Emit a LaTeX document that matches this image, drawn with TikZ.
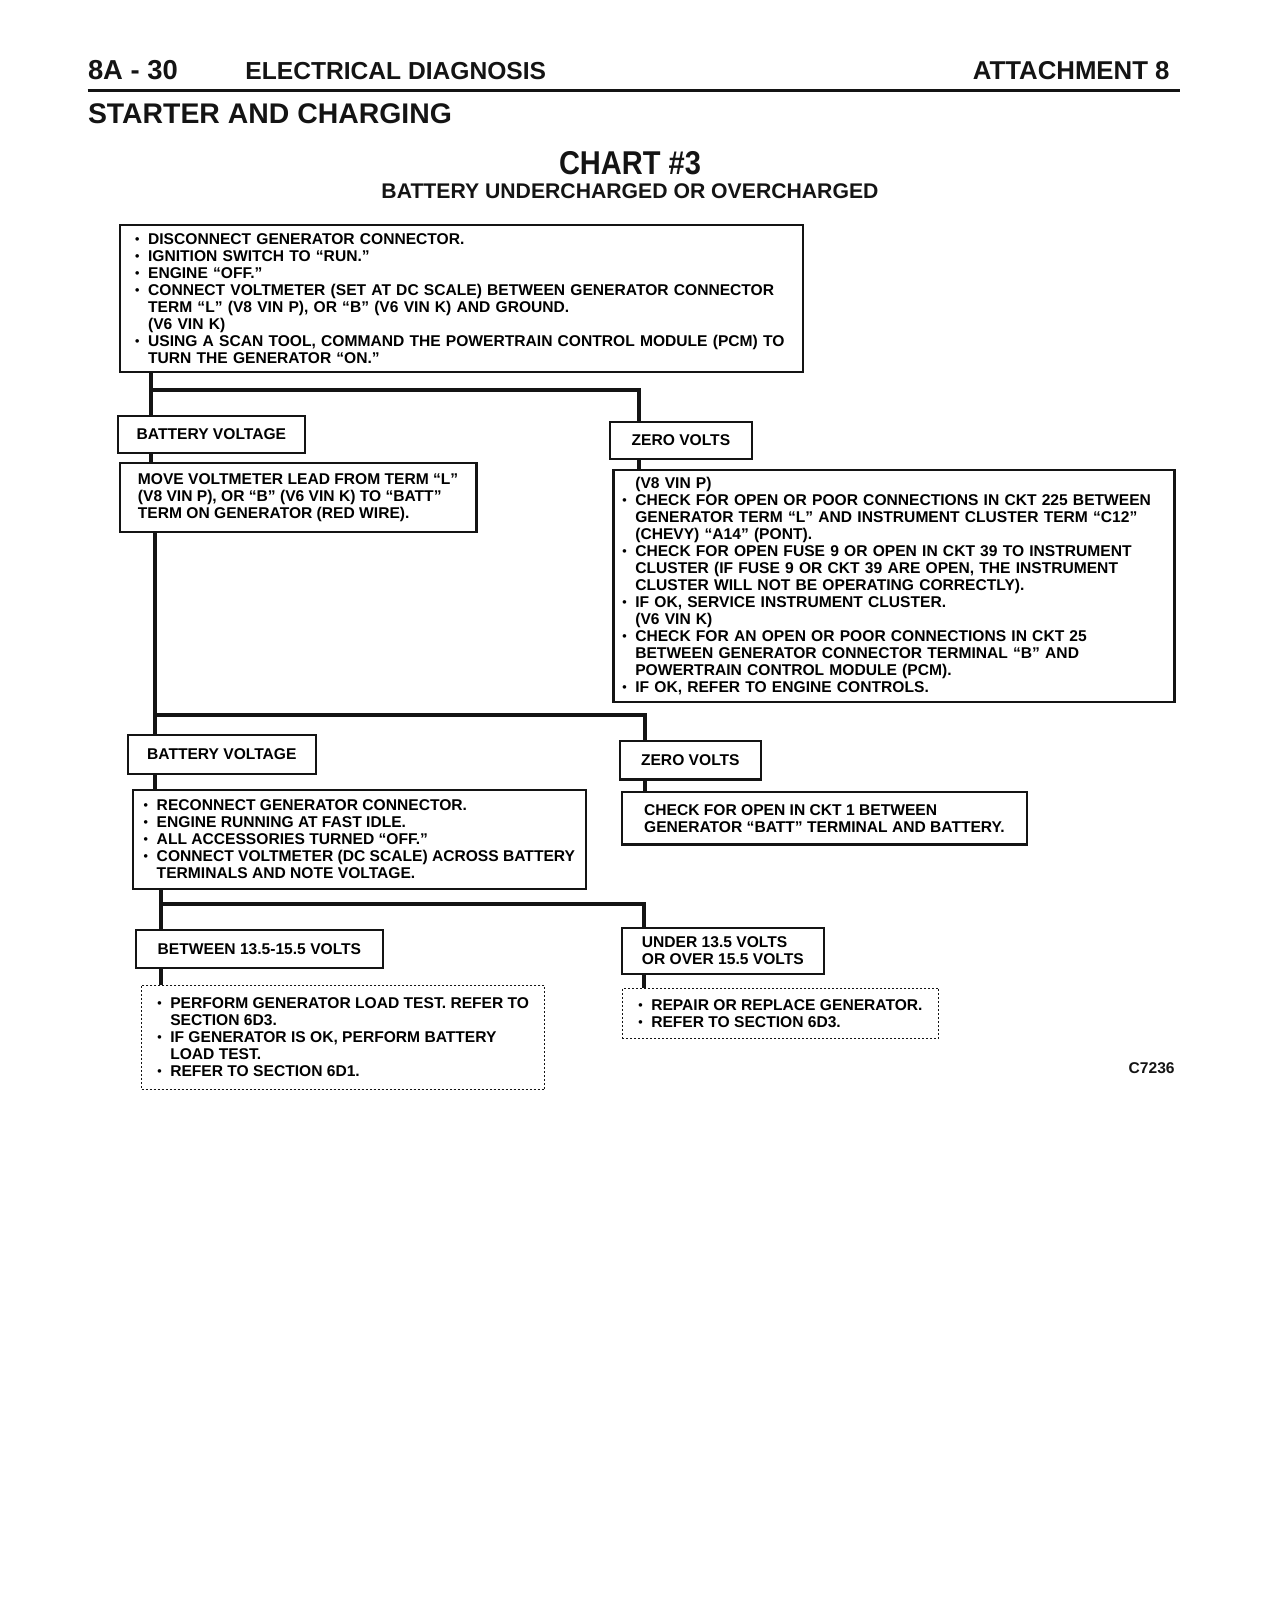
\documentclass[tikz,border=0pt]{standalone}
\usepackage{fontspec}
\setmainfont{Liberation Sans}
\newfontfamily\headfont[FakeStretch=0.88]{Liberation Sans}
\usetikzlibrary{calc, positioning}
\definecolor{scanInk}{HTML}{141414}
\newcommand{\boxfont}{\fontsize{7.8}{8.5}\selectfont\bfseries}
\newcommand{\itembul}{\makebox[6.5pt][l]{\raisebox{0.1ex}{\scalebox{0.8}{\textbullet}}}}
\newcommand{\itemind}{\hspace*{6.5pt}}
\tikzset{
  box/.style    = {draw=scanInk, line width=1.1pt, fill=white, anchor=north west,
                   align=left, font=\boxfont, inner sep=0pt},
  tag/.style    = {box, align=center},
  dotbox/.style = {box, line width=0.5pt, dash pattern=on 1pt off 1pt},
  link/.style   = {draw=scanInk, line width=2pt, line join=miter},
  head/.style   = {anchor=base west, inner sep=0pt, text=scanInk}
}

\begin{document}
\begin{tikzpicture}[x=0.5pt, y=-0.5pt]
  \useasboundingbox (0,0) rectangle (1264,1616);
  % page heading
  \node[head, font=\bfseries\fontsize{13.7}{14}\selectfont] (pageno) at (87.6,79.4) {8A - 30};
  \node[head, font=\bfseries\fontsize{12.3}{13}\selectfont] (section) at (245,79.4) {ELECTRICAL DIAGNOSIS};
  \node[head, anchor=base east, font=\bfseries\fontsize{12.9}{13}\selectfont] (attach) at (1170,79.4) {ATTACHMENT 8};
  \draw[scanInk, line width=1.3pt] (87.6,90.7) -- (1180,90.7);
  \node[head, font=\bfseries\fontsize{14.2}{15}\selectfont] (topic) at (87.6,123.7) {STARTER AND CHARGING};
  \node[head, anchor=base, font=\headfont\bfseries\fontsize{16.5}{16.5}\selectfont] (chart) at (630,174) {CHART \#3};
  \node[head, anchor=base, font=\bfseries\fontsize{10.6}{10.6}\selectfont] (subtitle) at (630,198) {BATTERY UNDERCHARGED OR OVERCHARGED};

  % first test
  \node[box, inner xsep=7.7pt, text width=326.3pt, minimum width=341.7pt, minimum height=73.7pt] (setup) at (118.6,223.7)
    {\itembul DISCONNECT GENERATOR CONNECTOR.\\
     \itembul IGNITION SWITCH TO “RUN.”\\
     \itembul ENGINE “OFF.”\\
     \itembul CONNECT VOLTMETER (SET AT DC SCALE) BETWEEN GENERATOR CONNECTOR\\
     \itemind TERM “L” (V8 VIN P), OR “B” (V6 VIN K) AND GROUND.\\
     \itemind (V6 VIN K)\\
     \itembul USING A SCAN TOOL, COMMAND THE POWERTRAIN CONTROL MODULE (PCM) TO\\
     \itemind TURN THE GENERATOR “ON.”};
  \node[tag, minimum width=93.8pt, minimum height=18.6pt] (batt1) at (116.5,414.5) {BATTERY VOLTAGE};
  \node[tag, minimum width=70.8pt, minimum height=18.6pt] (zero1) at (609,420.6) {ZERO VOLTS};
  \node[box, minimum width=178.4pt, minimum height=34.5pt] (move) at (118.6,462)
    {MOVE VOLTMETER LEAD FROM TERM “L”\\
     (V8 VIN P), OR “B” (V6 VIN K) TO “BATT”\\
     TERM ON GENERATOR (RED WIRE).};
  \node[box, inner xsep=4.4pt, text width=271.7pt, minimum width=280.5pt, minimum height=116pt] (opencheck) at (612.4,469)
    {\itemind (V8 VIN P)\\
     \itembul CHECK FOR OPEN OR POOR CONNECTIONS IN CKT 225 BETWEEN\\
     \itemind GENERATOR TERM “L” AND INSTRUMENT CLUSTER TERM “C12”\\
     \itemind (CHEVY) “A14” (PONT).\\
     \itembul CHECK FOR OPEN FUSE 9 OR OPEN IN CKT 39 TO INSTRUMENT\\
     \itemind CLUSTER (IF FUSE 9 OR CKT 39 ARE OPEN, THE INSTRUMENT\\
     \itemind CLUSTER WILL NOT BE OPERATING CORRECTLY).\\
     \itembul IF OK, SERVICE INSTRUMENT CLUSTER.\\
     \itemind (V6 VIN K)\\
     \itembul CHECK FOR AN OPEN OR POOR CONNECTIONS IN CKT 25\\
     \itemind BETWEEN GENERATOR CONNECTOR TERMINAL “B” AND\\
     \itemind POWERTRAIN CONTROL MODULE (PCM).\\
     \itembul IF OK, REFER TO ENGINE CONTROLS.};

  % second test
  \node[tag, minimum width=93.9pt, minimum height=19.5pt] (batt2) at (126.8,734) {BATTERY VOLTAGE};
  \node[tag, minimum width=70.6pt, minimum height=19.2pt] (zero2) at (618.6,740) {ZERO VOLTS};
  \node[box, minimum width=226.3pt, minimum height=49.5pt] (running) at (132,788.7)
    {\itembul RECONNECT GENERATOR CONNECTOR.\\
     \itembul ENGINE RUNNING AT FAST IDLE.\\
     \itembul ALL ACCESSORIES TURNED “OFF.”\\
     \itembul CONNECT VOLTMETER (DC SCALE) ACROSS BATTERY\\
     \itemind TERMINALS AND NOTE VOLTAGE.};
  \node[box, minimum width=202.6pt, minimum height=26.3pt] (ckt1) at (620.7,790.8)
    {CHECK FOR OPEN IN CKT 1 BETWEEN\\
     GENERATOR “BATT” TERMINAL AND BATTERY.};

  % result
  \node[tag, minimum width=123.3pt, minimum height=19pt] (inrange) at (135,929) {BETWEEN 13.5-15.5 VOLTS};
  \node[box, minimum width=101pt, minimum height=23pt] (outrange) at (620.7,927)
    {UNDER 13.5 VOLTS\\OR OVER 15.5 VOLTS};
  \node[dotbox, minimum width=201.7pt, minimum height=52pt] (loadtest) at (141,984.6)
    {\itembul PERFORM GENERATOR LOAD TEST. REFER TO\\
     \itemind SECTION 6D3.\\
     \itembul IF GENERATOR IS OK, PERFORM BATTERY\\
     \itemind LOAD TEST.\\
     \itembul REFER TO SECTION 6D1.};
  \node[dotbox, minimum width=158.2pt, minimum height=25.3pt] (replace) at (621.7,987.7)
    {\itembul REPAIR OR REPLACE GENERATOR.\\
     \itembul REFER TO SECTION 6D3.};
  \node[head, anchor=base east, font=\boxfont] (figcode) at (1175,1073) {C7236};

  % connectors
  \coordinate (j1) at (150.5,389.7);
  \coordinate (r1) at (639.2,389.7);
  \draw[link] (setup.south -| j1) -- (batt1.north -| j1);
  \draw[link] (j1) -- (r1) -- (zero1.north -| r1);
  \draw[link] (batt1.south -| j1) -- (move.north -| j1);
  \draw[link] (zero1.south -| r1) -- (opencheck.north -| r1);
  \coordinate (j2) at (154.5,714.5);
  \coordinate (r2) at (645.4,714.5);
  \draw[link] (move.south -| j2) -- (batt2.north -| j2);
  \draw[link] (j2) -- (r2) -- (zero2.north -| r2);
  \draw[link] (batt2.south -| j2) -- (running.north -| j2);
  \draw[link] (zero2.south -| r2) -- (ckt1.north -| r2);
  \coordinate (j3) at (161,904);
  \coordinate (r3) at (644.4,904);
  \draw[link] (running.south -| j3) -- (inrange.north -| j3);
  \draw[link] (j3) -- (r3) -- (outrange.north -| r3);
  \draw[link] (inrange.south -| j3) -- (loadtest.north -| j3);
  \draw[link] (outrange.south -| r3) -- (replace.north -| r3);
\end{tikzpicture}
\end{document}
